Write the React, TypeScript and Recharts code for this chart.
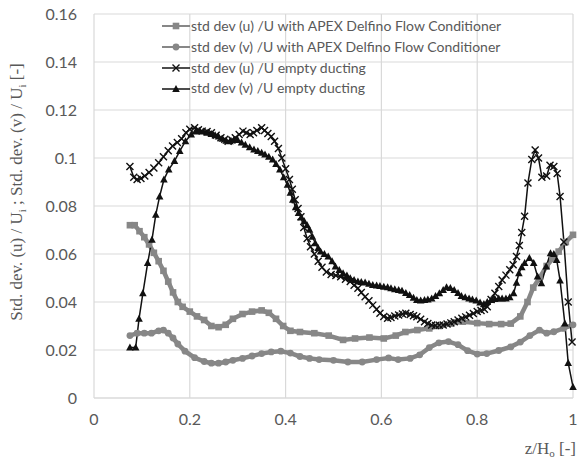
import { LineChart, Line, XAxis, YAxis, CartesianGrid } from "recharts";

const GRAY = "#878787";
const BLACK = "#111111";
const GRID = "#d9d9d9";
const TEXT = "#595959";
const SANS = "Lato, 'Open Sans', sans-serif";
const SERIF = "'Liberation Serif', 'DejaVu Serif', serif";

const xTicks = [0, 0.2, 0.4, 0.6, 0.8, 1];
const yTicks = [0, 0.02, 0.04, 0.06, 0.08, 0.1, 0.12, 0.14, 0.16];

const seriesNames = [
  "std dev (u) /U with APEX Delfino Flow Conditioner",
  "std dev (v) /U with APEX Delfino Flow Conditioner",
  "std dev (u) /U empty ducting",
  "std dev (v) /U empty ducting",
];

// std dev (u) with conditioner
const apexUz = [0.075, 0.085, 0.095, 0.105, 0.115, 0.125, 0.135, 0.145, 0.155, 0.165, 0.175, 0.185, 0.2, 0.215, 0.23, 0.245, 0.26, 0.275, 0.29, 0.31, 0.33, 0.35, 0.365, 0.38, 0.395, 0.41, 0.43, 0.46, 0.49, 0.52, 0.545, 0.575, 0.605, 0.63, 0.65, 0.675, 0.7, 0.72, 0.745, 0.77, 0.8, 0.825, 0.85, 0.87, 0.89, 0.905, 0.917, 0.93, 0.945, 0.957, 0.97, 0.985, 1.0];
const apexUv = [0.072, 0.072, 0.0695, 0.067, 0.064, 0.0605, 0.057, 0.053, 0.0485, 0.044, 0.04, 0.038, 0.036, 0.034, 0.0325, 0.03, 0.0295, 0.0305, 0.033, 0.035, 0.036, 0.0365, 0.0355, 0.033, 0.03, 0.028, 0.0275, 0.027, 0.026, 0.0242, 0.0248, 0.0252, 0.0248, 0.026, 0.0275, 0.0283, 0.029, 0.03, 0.031, 0.0318, 0.0312, 0.0308, 0.0308, 0.031, 0.034, 0.04, 0.046, 0.05, 0.055, 0.058, 0.061, 0.065, 0.068];

// std dev (v) with conditioner
const apexVz = [0.075, 0.09, 0.105, 0.12, 0.135, 0.145, 0.155, 0.165, 0.175, 0.19, 0.21, 0.23, 0.245, 0.26, 0.275, 0.29, 0.31, 0.33, 0.35, 0.37, 0.39, 0.41, 0.43, 0.45, 0.47, 0.5, 0.53, 0.56, 0.59, 0.615, 0.635, 0.66, 0.68, 0.7, 0.72, 0.74, 0.76, 0.78, 0.8, 0.82, 0.845, 0.87, 0.89, 0.91, 0.93, 0.945, 0.96, 0.98, 1.0];
const apexVv = [0.026, 0.027, 0.027, 0.027, 0.028, 0.0283, 0.027, 0.025, 0.0225, 0.0195, 0.0168, 0.0152, 0.0145, 0.0145, 0.015, 0.0157, 0.0165, 0.0175, 0.0185, 0.0192, 0.0195, 0.0187, 0.0173, 0.0165, 0.016, 0.0157, 0.015, 0.015, 0.016, 0.0167, 0.016, 0.0165, 0.018, 0.021, 0.023, 0.0235, 0.0222, 0.0197, 0.0183, 0.0185, 0.0198, 0.0213, 0.0233, 0.026, 0.0283, 0.027, 0.0276, 0.029, 0.0305];

// std dev (u) empty ducting
const emptyUz = [0.075, 0.083, 0.09, 0.098, 0.106, 0.115, 0.125, 0.135, 0.145, 0.155, 0.164, 0.174, 0.183, 0.192, 0.2, 0.21, 0.218, 0.226, 0.236, 0.245, 0.255, 0.265, 0.273, 0.28, 0.288, 0.295, 0.303, 0.311, 0.318, 0.326, 0.333, 0.34, 0.35, 0.356, 0.363, 0.37, 0.377, 0.385, 0.392, 0.4, 0.408, 0.414, 0.42, 0.426, 0.432, 0.438, 0.445, 0.452, 0.46, 0.468, 0.476, 0.485, 0.495, 0.505, 0.515, 0.525, 0.535, 0.543, 0.551, 0.558, 0.566, 0.574, 0.582, 0.59, 0.597, 0.605, 0.613, 0.62, 0.628, 0.636, 0.644, 0.651, 0.66, 0.667, 0.674, 0.682, 0.69, 0.697, 0.705, 0.713, 0.721, 0.729, 0.737, 0.745, 0.752, 0.76, 0.768, 0.776, 0.784, 0.792, 0.8, 0.808, 0.815, 0.821, 0.829, 0.837, 0.845, 0.852, 0.86, 0.868, 0.875, 0.882, 0.888, 0.893, 0.899, 0.906, 0.914, 0.921, 0.928, 0.935, 0.945, 0.952, 0.96, 0.967, 0.973, 0.981, 0.99, 0.998];
const emptyUv = [0.0965, 0.092, 0.091, 0.0915, 0.0925, 0.094, 0.0958, 0.098, 0.1005, 0.103, 0.105, 0.1065, 0.108, 0.1105, 0.112, 0.1126, 0.1118, 0.1112, 0.111, 0.1105, 0.1095, 0.1084, 0.1078, 0.107, 0.1075, 0.1084, 0.1098, 0.1112, 0.1105, 0.1098, 0.1105, 0.1115, 0.1126, 0.1115, 0.1102, 0.109, 0.107, 0.104, 0.1, 0.0955, 0.091, 0.087, 0.0826, 0.079, 0.0755, 0.071, 0.0665, 0.063, 0.06, 0.057, 0.0545, 0.0525, 0.0515, 0.051, 0.0505, 0.0495, 0.0485, 0.047, 0.0457, 0.044, 0.0422, 0.0405, 0.0387, 0.037, 0.0353, 0.034, 0.0332, 0.0335, 0.0342, 0.0346, 0.035, 0.0353, 0.0348, 0.0343, 0.0339, 0.0328, 0.0318, 0.031, 0.0304, 0.0302, 0.0303, 0.0304, 0.0308, 0.0313, 0.0318, 0.0325, 0.0332, 0.0338, 0.0345, 0.0352, 0.036, 0.0365, 0.037, 0.038, 0.041, 0.0436, 0.0465, 0.0492, 0.0512, 0.0534, 0.0555, 0.059, 0.0635, 0.069, 0.0757, 0.0896, 0.0994, 0.1033, 0.1, 0.092, 0.0925, 0.097, 0.0965, 0.0935, 0.084, 0.065, 0.04, 0.0233];

// std dev (v) empty ducting
const emptyVz = [0.075, 0.087, 0.094, 0.102, 0.112, 0.121, 0.129, 0.137, 0.146, 0.156, 0.168, 0.179, 0.191, 0.203, 0.212, 0.22, 0.228, 0.236, 0.245, 0.253, 0.26, 0.268, 0.276, 0.284, 0.292, 0.3, 0.308, 0.316, 0.325, 0.334, 0.342, 0.35, 0.357, 0.365, 0.373, 0.38, 0.388, 0.396, 0.404, 0.41, 0.415, 0.421, 0.427, 0.433, 0.439, 0.445, 0.45, 0.456, 0.462, 0.468, 0.473, 0.481, 0.489, 0.497, 0.504, 0.512, 0.52, 0.528, 0.535, 0.543, 0.551, 0.558, 0.566, 0.574, 0.582, 0.59, 0.597, 0.605, 0.613, 0.62, 0.628, 0.636, 0.643, 0.651, 0.659, 0.667, 0.674, 0.682, 0.69, 0.697, 0.705, 0.713, 0.721, 0.729, 0.736, 0.744, 0.752, 0.76, 0.767, 0.775, 0.783, 0.79, 0.798, 0.806, 0.814, 0.821, 0.829, 0.837, 0.845, 0.852, 0.86, 0.868, 0.876, 0.882, 0.887, 0.893, 0.899, 0.909, 0.918, 0.926, 0.934, 0.944, 0.953, 0.96, 0.966, 0.973, 0.983, 0.99, 1.0];
const emptyVv = [0.021, 0.021, 0.033, 0.0436, 0.0562, 0.0659, 0.0764, 0.084, 0.091, 0.0952, 0.0987, 0.1029, 0.107, 0.1098, 0.111, 0.1112, 0.111, 0.1105, 0.11, 0.1095, 0.109, 0.108, 0.1072, 0.107, 0.1075, 0.1075, 0.1065, 0.1055, 0.1045, 0.1035, 0.1029, 0.1022, 0.1015, 0.1005, 0.0994, 0.0975, 0.0952, 0.092, 0.0889, 0.0855, 0.0826, 0.0795, 0.0771, 0.0752, 0.0736, 0.072, 0.0701, 0.0672, 0.0645, 0.0625, 0.061, 0.06, 0.059, 0.057, 0.0548, 0.0533, 0.052, 0.051, 0.0499, 0.0492, 0.0485, 0.0483, 0.0481, 0.0476, 0.0471, 0.0469, 0.0467, 0.0464, 0.0461, 0.0457, 0.0453, 0.045, 0.0447, 0.0438, 0.0429, 0.0418, 0.0408, 0.0406, 0.0408, 0.041, 0.0415, 0.0425, 0.0436, 0.045, 0.0461, 0.0458, 0.045, 0.0437, 0.0425, 0.042, 0.0415, 0.041, 0.0406, 0.0398, 0.0392, 0.04, 0.0408, 0.0412, 0.0415, 0.0415, 0.0415, 0.042, 0.0436, 0.048, 0.052, 0.0545, 0.0562, 0.0583, 0.0562, 0.0506, 0.0478, 0.0548, 0.0603, 0.06, 0.0575, 0.049, 0.031, 0.0146, 0.0046];

const toPoints = (z: number[], v: number[]) => z.map((x, i) => ({ z: x, v: v[i] }));

const squareMark = (cx: number, cy: number, key?: string) => (
  <rect key={key} x={cx - 3.3} y={cy - 3.3} width={6.6} height={6.6} fill={GRAY} />
);
const circleMark = (cx: number, cy: number, key?: string) => (
  <circle key={key} cx={cx} cy={cy} r={3.4} fill={GRAY} />
);
const crossMark = (cx: number, cy: number, key?: string) => (
  <path
    key={key}
    d={`M${cx - 3.5},${cy - 3.5}L${cx + 3.5},${cy + 3.5}M${cx - 3.5},${cy + 3.5}L${cx + 3.5},${cy - 3.5}`}
    stroke={BLACK}
    strokeWidth={1.4}
    fill="none"
  />
);
const triangleMark = (cx: number, cy: number, key?: string) => (
  <path key={key} d={`M${cx},${cy - 4}L${cx + 3.8},${cy + 3}L${cx - 3.8},${cy + 3}Z`} fill={BLACK} />
);

const marks = [squareMark, circleMark, crossMark, triangleMark];
const colors = [GRAY, GRAY, BLACK, BLACK];

function LegendBox() {
  return (
    <div
      style={{
        position: "absolute",
        left: 162,
        top: 16,
        fontFamily: SANS,
        fontSize: 14,
        color: TEXT,
        lineHeight: "20.8px",
      }}
    >
      {seriesNames.map((name, i) => (
        <div key={name} style={{ display: "flex", alignItems: "center", whiteSpace: "nowrap" }}>
          <svg width={28} height={12} style={{ marginRight: 1 }}>
            <line x1={0} y1={6} x2={28} y2={6} stroke={colors[i]} strokeWidth={i < 2 ? 2 : 1.5} />
            {marks[i](14, 6)}
          </svg>
          <span>{name}</span>
        </div>
      ))}
    </div>
  );
}

function YLabel() {
  return (
    <text
      transform="translate(22,192) rotate(-90)"
      textAnchor="middle"
      fontFamily={SERIF}
      fontSize={17}
      fill={TEXT}
    >
      Std. dev. (u) / U<tspan dy={4} fontSize={11}>i</tspan>
      <tspan dy={-4}> ; Std. dev. (v) / U</tspan>
      <tspan dy={4} fontSize={11}>i</tspan>
      <tspan dy={-4}> [-]</tspan>
    </text>
  );
}

function XLabel() {
  return (
    <text x={576} y={454} textAnchor="end" fontFamily={SERIF} fontSize={17} fill={TEXT}>
      z/H<tspan dy={3} fontSize={11}>o</tspan>
      <tspan dy={-3}> [-]</tspan>
    </text>
  );
}

export default function App() {
  const data = [
    toPoints(apexUz, apexUv),
    toPoints(apexVz, apexVv),
    toPoints(emptyUz, emptyUv),
    toPoints(emptyVz, emptyVv),
  ];
  return (
    <div style={{ position: "absolute", left: 0, top: 0, width: 578, height: 461, background: "#fff" }}>
      <LineChart width={578} height={461} margin={{ top: 14, right: 5, left: 0, bottom: 33 }}>
        <CartesianGrid stroke={GRID} strokeWidth={1.2} />
        <XAxis
          dataKey="z"
          type="number"
          domain={[0, 1]}
          ticks={xTicks}
          height={30}
          tickLine={false}
          axisLine={{ stroke: GRID, strokeWidth: 1.2 }}
          tickMargin={10}
          tick={{ fontSize: 16, fill: TEXT, fontFamily: SANS }}
          allowDuplicatedCategory={false}
          label={{ content: () => <XLabel /> }}
        />
        <YAxis
          type="number"
          domain={[0, 0.16]}
          ticks={yTicks}
          width={94}
          tickLine={false}
          axisLine={false}
          tickMargin={11}
          tick={{ fontSize: 16, fill: TEXT, fontFamily: SANS }}
          label={{ content: () => <YLabel /> }}
        />
        {data.map((pts, i) => (
          <Line
            key={seriesNames[i]}
            name={seriesNames[i]}
            data={pts}
            dataKey="v"
            type="linear"
            stroke={colors[i]}
            strokeWidth={i < 2 ? 4.5 : 1.5}
            dot={(p: any) => marks[i](p.cx, p.cy, `d${i}-${p.index}`)}
            activeDot={false}
            isAnimationActive={false}
          />
        ))}
      </LineChart>
      <LegendBox />
    </div>
  );
}
